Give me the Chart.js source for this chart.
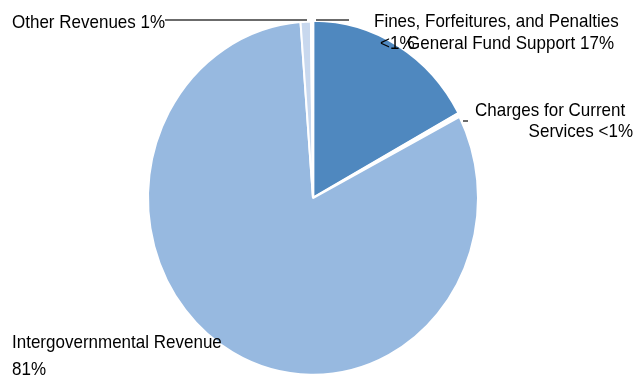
<!DOCTYPE html>
<html>
<head>
<meta charset="utf-8">
<script src="https://cdn.jsdelivr.net/npm/chart.js@4"></script>
<style>
  html, body { margin: 0; padding: 0; background: #fff; }
</style>
</head>
<body>
<canvas id="revenue-pie" width="635" height="378"></canvas>
<script>
const categories = [
  'General Fund Support',
  'Charges for Current Services',
  'Intergovernmental Revenue',
  'Other Revenues',
  'Fines, Forfeitures, and Penalties'
];
const shares = [17, 0.3, 81, 1, 0.2];
const shareLabels = ['17%', '<1%', '81%', '1%', '<1%'];

const sliceColors = ['#4f88bf', '#ffffff', '#97b9e0', '#c8d8ee', '#ffffff'];

// the whole chart is drawn slightly taller than wide
const stretchY = 1.0708;

// where each label sits: words before the line break, then [x, baseline, align] per line
const labelLayout = [
  { breakAfter: 0, lines: [[614, 46, 'right']] },
  { breakAfter: 3, lines: [[475, 108, 'left'], [633, 127.5, 'right']] },
  { breakAfter: 2, lines: [[12, 325, 'left'], [12, 350, 'left']] },
  { breakAfter: 0, lines: [[12, 26, 'left']] },
  { breakAfter: 4, lines: [[374, 25.5, 'left'], [380, 46, 'left']] }
];

const leaderLines = [
  [165, 18.7, 307, 18.7],
  [316, 18.7, 349, 18.7],
  [463, 113, 468, 113]
];

function labelLines(i) {
  const words = `${categories[i]} ${shareLabels[i]}`.split(' ');
  const cut = labelLayout[i].breakAfter;
  if (!cut) {
    return [words.join(' ')];
  }
  return [words.slice(0, cut).join(' '), words.slice(cut).join(' ')];
}

const sliceLabels = {
  id: 'sliceLabels',
  beforeDraw(chart) {
    chart.ctx.save();
    chart.ctx.scale(1, stretchY);
  },
  afterDraw(chart) {
    const { ctx } = chart;
    ctx.save();
    ctx.strokeStyle = '#3a3a3a';
    ctx.lineWidth = 1.4;
    leaderLines.forEach(([x1, y1, x2, y2]) => {
      ctx.beginPath();
      ctx.moveTo(x1, y1);
      ctx.lineTo(x2, y2);
      ctx.stroke();
    });

    ctx.fillStyle = '#000';
    ctx.font = '17px "Liberation Sans", Arial, sans-serif';
    ctx.textBaseline = 'alphabetic';
    categories.forEach((_, i) => {
      labelLines(i).forEach((text, j) => {
        const [x, y, align] = labelLayout[i].lines[j];
        ctx.textAlign = align;
        ctx.fillText(text, x, y);
      });
    });
    ctx.restore();
    ctx.restore();
  }
};

new Chart(document.getElementById('revenue-pie'), {
  type: 'pie',
  data: {
    labels: categories,
    datasets: [
      {
        data: shares,
        backgroundColor: sliceColors,
        borderColor: '#ffffff',
        borderWidth: 2,
        offset: [3, 0, 0, 0, 0]
      }
    ]
  },
  options: {
    responsive: false,
    animation: false,
    radius: 165,
    layout: {
      padding: { left: 148, right: 157, top: 20, bottom: 28 }
    },
    plugins: {
      legend: { display: false },
      tooltip: { enabled: false }
    }
  },
  plugins: [sliceLabels]
});
</script>
</body>
</html>
